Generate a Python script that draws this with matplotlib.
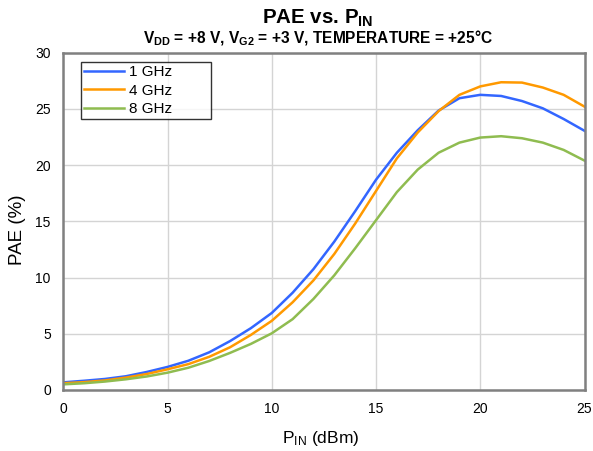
import numpy as np
import matplotlib
matplotlib.use('Agg')
import matplotlib.pyplot as plt

plt.rcParams['font.family'] = ['Liberation Sans', 'DejaVu Sans']
plt.rcParams['mathtext.default'] = 'regular'

# input power (dBm)
pin = [0, 1, 2, 3, 4, 5, 6, 7, 8, 9, 10, 11, 12, 13, 14, 15, 16, 17, 18, 19, 20, 21, 22, 23, 24, 25]

# PAE (%)
pae_1ghz = [0.68, 0.82, 0.98, 1.22, 1.6, 2.05, 2.6, 3.35, 4.35, 5.5, 6.85, 8.65, 10.75, 13.2, 15.9,
            18.7, 21.1, 23.1, 24.85, 25.95, 26.25, 26.15, 25.7, 25.05, 24.1, 23.05]
pae_4ghz = [0.6, 0.7, 0.85, 1.1, 1.42, 1.84, 2.3, 2.95, 3.8, 4.9, 6.15, 7.8, 9.75, 12.1, 14.8,
            17.7, 20.6, 22.9, 24.8, 26.25, 27.0, 27.37, 27.34, 26.9, 26.25, 25.2]
pae_8ghz = [0.5, 0.6, 0.75, 0.95, 1.2, 1.54, 1.98, 2.58, 3.3, 4.1, 5.04, 6.3, 8.1, 10.2, 12.6,
            15.1, 17.6, 19.6, 21.1, 22.0, 22.45, 22.57, 22.39, 22.0, 21.35, 20.4]

series = [('1 GHz', pae_1ghz, '#3366ff'),
          ('4 GHz', pae_4ghz, '#ff9900'),
          ('8 GHz', pae_8ghz, '#8fbc50')]

fig = plt.figure(figsize=(5.93, 4.51), dpi=100)
ax = fig.add_axes([0.1067, 0.1353, 0.879, 0.7479])

for label, vals, col in series:
    ax.plot(pin, vals, color=col, lw=1.8, label=label)

ax.set_xlim(0, 25)
ax.set_ylim(0, 30)
ax.set_xticks([0, 5, 10, 15, 20, 25])
ax.set_yticks([0, 5, 10, 15, 20, 25, 30])
ax.grid(True, color='#d4d4d4', lw=1.0)
ax.set_axisbelow(True)
for s in ax.spines.values():
    s.set_color('#808080')
    s.set_linewidth(1.8)
ax.tick_params(length=0, labelsize=10, pad=9)

ax.set_xlabel(r'P$_{IN}$ (dBm)', fontsize=12.5)
ax.set_ylabel('PAE (%)', fontsize=13.5)
ax.xaxis.set_label_coords(0.494, -0.145)
ax.xaxis.label.set_va('center')
ax.yaxis.set_label_coords(-0.088, 0.474)
ax.yaxis.label.set_va('center')

# excel-style legend box, wider than its text
leg = ax.legend(loc='upper left', bbox_to_anchor=(0.034, 0.7916, 0.249, 0.1808), mode='expand',
                fontsize=11, frameon=True, fancybox=False, edgecolor='black',
                handlelength=2.6, borderpad=0.2, labelspacing=0.3, handletextpad=0.35,
                borderaxespad=0)
leg.get_frame().set_linewidth(1.0)

fig.text(318 / 593, 1 - 24 / 451, r'PAE vs. P$_{IN}$', ha='center', va='baseline',
         fontsize=14.8, fontweight='bold')
fig.text(318 / 593, 1 - 43 / 451, r'V$_{DD}$ = +8 V, V$_{G2}$ = +3 V, TEMPERATURE = +25°C',
         ha='center', va='baseline', fontsize=11.2, fontweight='bold')

fig.savefig('out.png', dpi=100)
